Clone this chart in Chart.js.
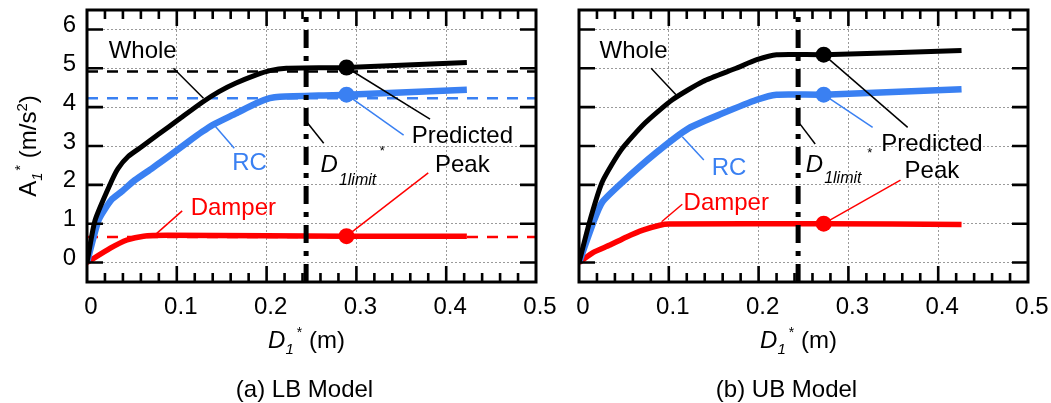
<!DOCTYPE html>
<html><head><meta charset="utf-8">
<script src="https://cdn.jsdelivr.net/npm/chart.js@4.4.1/dist/chart.umd.min.js"></script>
<style>
html,body{margin:0;padding:0;background:#fff;}
#wrap{position:relative;width:1051px;height:403px;overflow:hidden;background:#fff;}
canvas{position:absolute;top:0;}
#cL{left:0;} #cR{left:545px;}
</style></head><body>
<div id="wrap"><canvas id="cL" width="560" height="403"></canvas><canvas id="cR" width="506" height="403"></canvas></div>
<script>
// ---------------- data ----------------
const xTickValues = [0, 0.1, 0.2, 0.3, 0.4, 0.5];
const yTickValues = [0, 1, 2, 3, 4, 5, 6];

// (a) LB model
const lbWholeX  = [0, 0.009, 0.027, 0.0345, 0.0458, 0.0608, 0.0796, 0.102, 0.128, 0.147, 0.166, 0.1885, 0.2035, 0.222, 0.289, 0.423];
const lbWholeY  = [0, 1.09, 2.08, 2.42, 2.73, 2.98, 3.30, 3.68, 4.12, 4.40, 4.62, 4.83, 4.94, 5.0, 5.02, 5.15];
const lbRcX     = [0, 0.013, 0.027, 0.0383, 0.0533, 0.0721, 0.0909, 0.1134, 0.1284, 0.1397, 0.166, 0.1885, 0.2035, 0.2148, 0.289, 0.423];
const lbRcY     = [0, 1.10, 1.61, 1.82, 2.12, 2.42, 2.73, 3.12, 3.37, 3.54, 3.84, 4.10, 4.23, 4.27, 4.32, 4.45];
const lbDamperX = [0, 0.026, 0.0445, 0.063, 0.09, 0.2, 0.289, 0.423];
const lbDamperY = [0, 0.37, 0.58, 0.68, 0.70, 0.69, 0.68, 0.68];
const lbRefY    = [4.92, 4.23, 0.66];          // dashed reference levels: Whole, RC, Damper
const lbLimitX  = 0.244;                        // D1limit*
const lbPeakX   = 0.289;
const lbPeakY   = [5.02, 4.32, 0.68];

// (b) UB model
const ubWholeX  = [0, 0.013, 0.026, 0.047, 0.0735, 0.104, 0.138, 0.175, 0.198, 0.22, 0.2725, 0.426];
const ubWholeY  = [0, 1.15, 2.08, 2.90, 3.59, 4.19, 4.66, 5.00, 5.22, 5.35, 5.35, 5.46];
const ubRcX     = [0, 0.017, 0.026, 0.047, 0.085, 0.1225, 0.16, 0.198, 0.22, 0.2725, 0.426];
const ubRcY     = [0, 1.10, 1.56, 2.04, 2.81, 3.46, 3.84, 4.19, 4.32, 4.32, 4.46];
const ubDamperX = [0, 0.016, 0.0345, 0.053, 0.072, 0.09, 0.1, 0.2725, 0.426];
const ubDamperY = [0, 0.26, 0.45, 0.66, 0.84, 0.96, 0.99, 1.0, 0.98];
const ubRefY    = [];
const ubLimitX  = 0.244;
const ubPeakX   = 0.2725;
const ubPeakY   = [5.35, 4.32, 1.0];

// annotations (data coordinates)
const lbLeaders = [
  {x:[0.0963,0.1297], y:[5.0,4.23], c:'k'},
  {x:[0.164,0.1416],  y:[2.94,3.54], c:'b'},
  {x:[0.106,0.0777],  y:[1.33,0.75], c:'r'},
  {x:[0.2636,0.2456], y:[3.07,3.59], c:'k'},
  {x:[0.382,0.289],   y:[3.69,5.02], c:'k'},
  {x:[0.3526,0.289],  y:[3.28,4.32], c:'b'},
  {x:[0.38,0.289],    y:[2.31,0.68], c:'r'}
];
const ubLeaders = [
  {x:[0.0803,0.108],  y:[5.0,4.32], c:'k'},
  {x:[0.139,0.115],   y:[2.64,3.24], c:'b'},
  {x:[0.115,0.092],   y:[1.5,1.05], c:'r'},
  {x:[0.263,0.246],   y:[3.05,3.57], c:'k'},
  {x:[0.366,0.2725],  y:[3.48,5.35], c:'k'},
  {x:[0.327,0.2725],  y:[3.48,4.32], c:'b'},
  {x:[0.358,0.2725],  y:[2.12,1.0], c:'r'}
];
const lbTexts = [
  {t:'Whole', x:0.062, y:5.43, c:'k'},
  {t:'RC', x:0.181, y:2.55, c:'b'},
  {t:'Damper', x:0.163, y:1.39, c:'r'},
  {t:'Predicted', x:0.418, y:3.24, c:'k'},
  {t:'Peak', x:0.418, y:2.51, c:'k'},
  {t:'D', x:0.260, y:2.51, c:'k', it:true, al:'left'},
  {t:'1limit', x:0.2805, y:2.12, c:'k', it:true, al:'left', sm:1},
  {t:'*', x:0.326, y:2.85, c:'k', al:'left', sm:2}
];
const ubTexts = [
  {t:'Whole', x:0.0607, y:5.43, c:'k'},
  {t:'RC', x:0.167, y:2.42, c:'b'},
  {t:'Damper', x:0.164, y:1.52, c:'r'},
  {t:'Predicted', x:0.393, y:3.05, c:'k'},
  {t:'Peak', x:0.393, y:2.34, c:'k'},
  {t:'D', x:0.2525, y:2.51, c:'k', it:true, al:'left'},
  {t:'1limit', x:0.273, y:2.17, c:'k', it:true, al:'left', sm:1},
  {t:'*', x:0.321, y:2.81, c:'k', al:'left', sm:2}
];

// ---------------- styling ----------------
const FONT = '"Liberation Sans", Arial, Helvetica, sans-serif';
const COL = {k:'#000000', b:'#3A80F2', r:'#FF0000'};

function xy(xs, ys){ return xs.map((x,i)=>({x:x, y:ys[i]})); }

function drawRuns(ctx, runs, x, y){
  let cx = x;
  runs.forEach(r=>{
    ctx.font = (r.it?'italic ':'') + r.size + 'px ' + FONT;
    ctx.fillText(r.t, cx, y + (r.dy||0));
    cx += ctx.measureText(r.t).width + (r.gap||0);
  });
  return cx - x;
}
function runsWidth(ctx, runs){
  let w = 0;
  runs.forEach(r=>{ ctx.font=(r.it?'italic ':'')+r.size+'px '+FONT; w += ctx.measureText(r.t).width + (r.gap||0); });
  return w;
}

const decorPlugin = {
  id:'decor',
  afterDatasetsDraw(chart, args, opts){
    const ctx = chart.ctx, xs = chart.scales.x, ys = chart.scales.y;
    ctx.save();
    ctx.textBaseline = 'middle';
    opts.texts.forEach(tx=>{
      const size = tx.sm===1 ? 16 : (tx.sm===2 ? 13 : 24);
      ctx.font = (tx.it?'italic ':'') + size + 'px ' + FONT;
      ctx.fillStyle = COL[tx.c];
      ctx.textAlign = tx.al || 'center';
      ctx.fillText(tx.t, xs.getPixelForValue(tx.x), ys.getPixelForValue(tx.y));
    });
    ctx.restore();
  },
  afterDraw(chart, args, opts){
    const ctx = chart.ctx, xs = chart.scales.x, ys = chart.scales.y, a = chart.chartArea;
    ctx.save();
    ctx.strokeStyle = '#000';
    ctx.lineWidth = 2.6;
    ctx.beginPath();
    for (let i = 1; i < 25; i++){
      const px = xs.getPixelForValue(i*0.02);
      const len = (i % 5 === 0) ? 16 : 9;
      ctx.moveTo(px, a.top); ctx.lineTo(px, a.top + len);
      ctx.moveTo(px, a.bottom); ctx.lineTo(px, a.bottom - len);
    }
    yTickValues.forEach(v=>{
      const py = ys.getPixelForValue(v);
      ctx.moveTo(a.left, py); ctx.lineTo(a.left + 16, py);
      ctx.moveTo(a.right, py); ctx.lineTo(a.right - 16, py);
    });
    ctx.stroke();
    ctx.lineWidth = 3;
    ctx.strokeRect(a.left, a.top, a.right - a.left, a.bottom - a.top);
    ctx.fillStyle = '#000';
    ctx.textAlign = 'left';
    ctx.textBaseline = 'alphabetic';
    const xr = [
      {t:'D', size:24, it:true},
      {t:'1', size:15, it:true, dy:6, gap:3},
      {t:'*', size:14, dy:-11},
      {t:' (m)', size:24}
    ];
    const cxm = (a.left + a.right)/2 + opts.xTitleDx;
    drawRuns(ctx, xr, cxm - runsWidth(ctx, xr)/2, 348);
    if (opts.yTitle){
      const yr = [
        {t:'A', size:24},
        {t:'1', size:15, it:true, dy:6, gap:2},
        {t:'*', size:14, dy:-11},
        {t:' (m/s', size:24},
        {t:'2', size:15, dy:-9},
        {t:')', size:24}
      ];
      ctx.save();
      ctx.translate(36, (a.top + a.bottom)/2);
      ctx.rotate(-Math.PI/2);
      drawRuns(ctx, yr, -runsWidth(ctx, yr)/2, 0);
      ctx.restore();
    }
    ctx.font = '24px ' + FONT;
    ctx.textAlign = 'center';
    ctx.fillText(opts.subtitle, (a.left + a.right)/2 + opts.subDx, 397);
    ctx.restore();
  }
};

function buildChart(id, d){
  const datasets = [];
  datasets.push({data: xy([d.peakX, d.peakX, d.peakX], d.peakY), showLine:false,
    pointRadius:8, pointBorderWidth:0,
    pointBackgroundColor:[COL.k, COL.b, COL.r], order:0});
  datasets.push({data: xy([d.limitX, d.limitX], [-0.5, 6.5]), showLine:true, pointRadius:0,
    borderColor:'#000', borderWidth:5, borderDash:[18,8,5,8], order:1});
  d.leaders.forEach(l=>datasets.push({data: xy(l.x, l.y), showLine:true, pointRadius:0,
    borderColor:COL[l.c], borderWidth:1.5, order:2}));
  const curve = (xs, ys, c, w)=>({data: xy(xs, ys), showLine:true, pointRadius:0,
    borderColor:c, borderWidth:w, tension:0.2, borderCapStyle:'butt', borderJoinStyle:'round', order:3});
  datasets.push(curve(d.wx, d.wy, COL.k, 5));
  datasets.push(curve(d.rx, d.ry, COL.b, 6.5));
  datasets.push(curve(d.dx, d.dy, COL.r, 5.5));
  const refC = [COL.k, COL.b, COL.r];
  d.refY.forEach((v,i)=>datasets.push({data: xy([0, 0.5], [v, v]), showLine:true, pointRadius:0,
    borderColor:refC[i], borderWidth:2.5, borderDash:[11,9], order:4}));

  return new Chart(document.getElementById(id), {
    type:'scatter',
    data:{datasets},
    options:{
      responsive:false, animation:false, devicePixelRatio:1,
      events:[],
      layout:{padding:{left:0, top:10, right:d.padRight, bottom:0}},
      plugins:{legend:{display:false}, tooltip:{enabled:false},
        decor:{texts:d.texts, yTitle:d.yTitle, subtitle:d.subtitle, subDx:d.subDx, xTitleDx:-5}},
      scales:{
        x:{type:'linear', min:0, max:0.5,
          afterBuildTicks:s=>{ s.ticks = xTickValues.map(v=>({value:v})); },
          afterFit:s=>{ s.height = 121; s.paddingLeft=0; s.paddingRight=0; },
          ticks:{color:'#000', font:{family:FONT, size:24}, padding:11, labelOffset:4, maxRotation:0, autoSkip:false,
            callback:v=>String(Math.round(v*10)/10)},
          grid:{color:'#9a9a9a', lineWidth:1, drawTicks:false},
          border:{display:false, dash:[2,2]}
        },
        y:{type:'linear', min:-0.5, max:6.5,
          afterBuildTicks:s=>{ s.ticks = yTickValues.map(v=>({value:v})); },
          afterFit:s=>{ s.width = d.yWidth; s.paddingTop=0; s.paddingBottom=0; },
          ticks:{display:d.yTitle, color:'#000', font:{family:FONT, size:24}, padding:11, labelOffset:-4,
            callback:v=>String(v)},
          grid:{color:'#9a9a9a', lineWidth:1, drawTicks:false},
          border:{display:false, dash:[2,2]}
        }
      }
    },
    plugins:[decorPlugin]
  });
}

buildChart('cL', {wx:lbWholeX, wy:lbWholeY, rx:lbRcX, ry:lbRcY, dx:lbDamperX, dy:lbDamperY,
  refY:lbRefY, limitX:lbLimitX, peakX:lbPeakX, peakY:lbPeakY, leaders:lbLeaders, texts:lbTexts,
  yTitle:true, subtitle:'(a) LB Model', subDx:-7, padRight:24, yWidth:87});
buildChart('cR', {wx:ubWholeX, wy:ubWholeY, rx:ubRcX, ry:ubRcY, dx:ubDamperX, dy:ubDamperY,
  refY:ubRefY, limitX:ubLimitX, peakX:ubPeakX, peakY:ubPeakY, leaders:ubLeaders, texts:ubTexts,
  yTitle:false, subtitle:'(b) UB Model', subDx:-17, padRight:23, yWidth:34});
</script>
</body></html>
